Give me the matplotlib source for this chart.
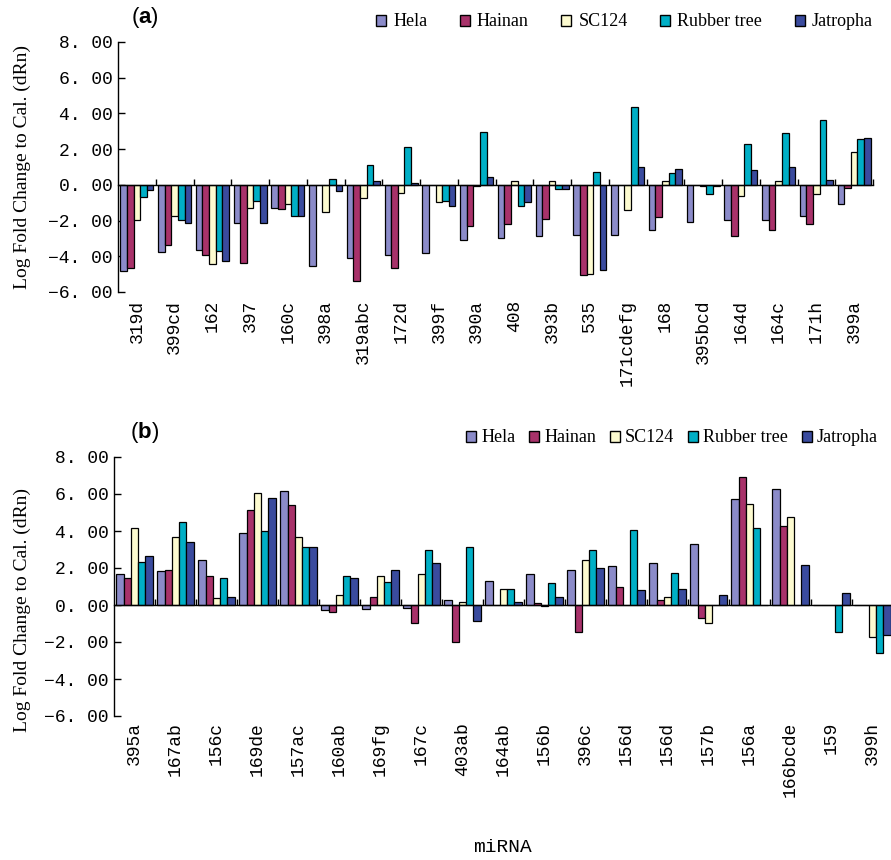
import numpy as np
import matplotlib
matplotlib.use('Agg')
import matplotlib.pyplot as plt
from matplotlib.patches import Patch
from matplotlib.transforms import blended_transform_factory

plt.rcParams['mathtext.fontset'] = 'custom'
plt.rcParams['mathtext.bf'] = 'Liberation Sans:bold'
plt.rcParams['mathtext.rm'] = 'Liberation Sans'

series = ['Hela', 'Hainan', 'SC124', 'Rubber tree', 'Jatropha']
colors = ['#8b8bc9', '#a8326a', '#fdfbd0', '#00afc6', '#3a4b9e']

a_cats = ['319d', '399cd', '162', '397', '160c', '398a', '319abc', '172d', '399f', '390a',
          '408', '393b', '535', '171cdefg', '168', '395bcd', '164d', '164c', '171h', '399a']
a_hela = [-4.81, -3.75, -3.65, -2.12, -1.31, -4.55, -4.08, -3.93, -3.84, -3.09,
          -2.98, -2.88, -2.81, -2.81, -2.51, -2.10, -1.97, -1.97, -1.72, -1.09]
a_hainan = [-4.63, -3.37, -3.93, -4.36, -1.37, 0, -5.37, -4.63, 0, -2.28,
            -2.17, -1.89, -5.06, 0, -1.80, 0, -2.88, -2.51, -2.19, -0.17]
a_sc124 = [-1.97, -1.74, -4.46, -1.27, -1.09, -1.54, -0.75, -0.47, -0.97, -0.09,
           0.19, 0.19, -5.00, -1.42, 0.19, -0.05, -0.64, 0.19, -0.54, 1.84]
a_rubber = [-0.66, -1.97, -3.69, -0.90, -1.74, 0.34, 1.09, 2.10, -0.90, 2.98,
            -1.16, -0.26, 0.73, 4.36, 0.66, -0.54, 2.28, 2.92, 3.63, 2.55]
a_jatropha = [-0.28, -2.12, -4.27, -2.12, -1.74, -0.34, 0.19, 0.09, -1.18, 0.43,
              -0.97, -0.26, -4.79, 1.01, 0.90, -0.07, 0.82, 1.01, 0.28, 2.64]

b_cats = ['395a', '167ab', '156c', '169de', '157ac', '160ab', '169fg', '167c', '403ab', '164ab',
          '156b', '396c', '156d', '156d', '157b', '156a', '166bcde', '159', '399h']
b_hela = [1.66, 1.82, 2.43, 3.91, 6.16, -0.27, -0.23, -0.18, 0.27, 1.30,
          1.66, 1.91, 2.09, 2.27, 3.29, 5.71, 6.25, 0, 0]
b_hainan = [1.46, 1.91, 1.57, 5.13, 5.38, -0.36, 0.45, -0.98, -2.00, 0,
            0.09, -1.46, 0.95, 0.27, -0.68, 6.93, 4.25, 0, 0]
b_sc124 = [4.16, 3.66, 0.36, 6.07, 3.66, 0.54, 1.57, 1.66, 0.18, 0.86,
           -0.05, 2.41, 0, 0.45, -0.96, 5.45, 4.77, 0, -1.75]
b_rubber = [2.32, 4.50, 1.48, 3.98, 3.13, 1.57, 1.23, 2.95, 3.13, 0.86,
            1.21, 2.95, 4.07, 1.73, 0, 4.16, 0, -1.46, -2.60]
b_jatropha = [2.63, 3.39, 0.45, 5.80, 3.13, 1.48, 1.91, 2.27, -0.86, 0.18,
              0.45, 2.00, 0.79, 0.86, 0.54, 0, 2.18, 0.63, -1.64]

yticks = [-6, -4, -2, 0, 2, 4, 6, 8]
ylab = 'Log Fold Change to Cal. (dRn)'
mono = 'Liberation Mono'
serif = 'Liberation Serif'


def draw_panel(ax, cats, vals, lab_off):
    n = len(cats)
    x = np.arange(n)
    w = 0.176
    for i, v in enumerate(vals):
        ax.bar(x + (i - 2) * w, v, w, color=colors[i], edgecolor='black',
               linewidth=0.9, label=series[i], zorder=2)
    ax.set_xlim(-0.5, n - 0.5)
    ax.set_ylim(-6, 8)
    ax.spines['top'].set_visible(False)
    ax.spines['right'].set_visible(False)
    ax.spines['bottom'].set_position(('data', 0))
    ax.spines['bottom'].set_linewidth(1.0)
    ax.spines['left'].set_linewidth(1.0)
    # tick marks sit between the groups, names go under the axes
    ax.set_xticks(x + 0.5)
    ax.set_xticklabels([])
    ax.tick_params(axis='x', direction='in', length=4, width=1.0)
    ax.set_yticks(yticks)
    ax.set_yticklabels([('%.2f' % t).replace('.', '. ').replace('-', '\u2212') for t in yticks],
                       fontfamily=mono, fontsize=13)
    ax.tick_params(axis='y', direction='in', length=5, width=1.0, pad=4)
    tr = blended_transform_factory(ax.transData, ax.transAxes)
    for xi, c in zip(x, cats):
        ax.text(xi, lab_off, c, rotation=90, ha='center', va='top',
                fontfamily=mono, fontsize=13, transform=tr)


fig = plt.figure(figsize=(8.91, 8.6), dpi=100)

ax_a = fig.add_axes([118 / 891, 1 - 292 / 860, 755 / 891, 250 / 860])
draw_panel(ax_a, a_cats, [a_hela, a_hainan, a_sc124, a_rubber, a_jatropha], -8 / 250)

ax_b = fig.add_axes([114 / 891, 1 - 716 / 860, 779 / 891, 259 / 860])
draw_panel(ax_b, b_cats, [b_hela, b_hainan, b_sc124, b_rubber, b_jatropha], -6 / 259)

handles = [Patch(facecolor=c, edgecolor='black', linewidth=1.0) for c in colors]
fig.legend(handles, series, loc='center left', bbox_to_anchor=(376 / 891, 1 - 22 / 860),
           ncol=5, frameon=False, prop={'family': serif, 'size': 13},
           handlelength=0.55, handleheight=0.55, handletextpad=0.4,
           columnspacing=1.8, borderpad=0, borderaxespad=0)
fig.legend(handles, series, loc='center left', bbox_to_anchor=(466 / 891, 1 - 438 / 860),
           ncol=5, frameon=False, prop={'family': serif, 'size': 13},
           handlelength=0.55, handleheight=0.55, handletextpad=0.3,
           columnspacing=0.75, borderpad=0, borderaxespad=0)

fig.text(22 / 891, 1 - 167 / 860, ylab, rotation=90, ha='center', va='center',
         fontfamily=serif, fontsize=14)
fig.text(22 / 891, 1 - 610 / 860, ylab, rotation=90, ha='center', va='center',
         fontfamily=serif, fontsize=14)

fig.text(131 / 891, 1 - 18 / 860, r'($\mathbf{a}$)', ha='left', va='center', fontsize=16,
         fontfamily='Liberation Sans')
fig.text(130 / 891, 1 - 432 / 860, r'($\mathbf{b}$)', ha='left', va='center', fontsize=16,
         fontfamily='Liberation Sans')

fig.text(502 / 891, 1 - 848 / 860, 'miRNA', ha='center', va='center',
         fontfamily=mono, fontsize=14)

fig.savefig('out.png', dpi=100)
